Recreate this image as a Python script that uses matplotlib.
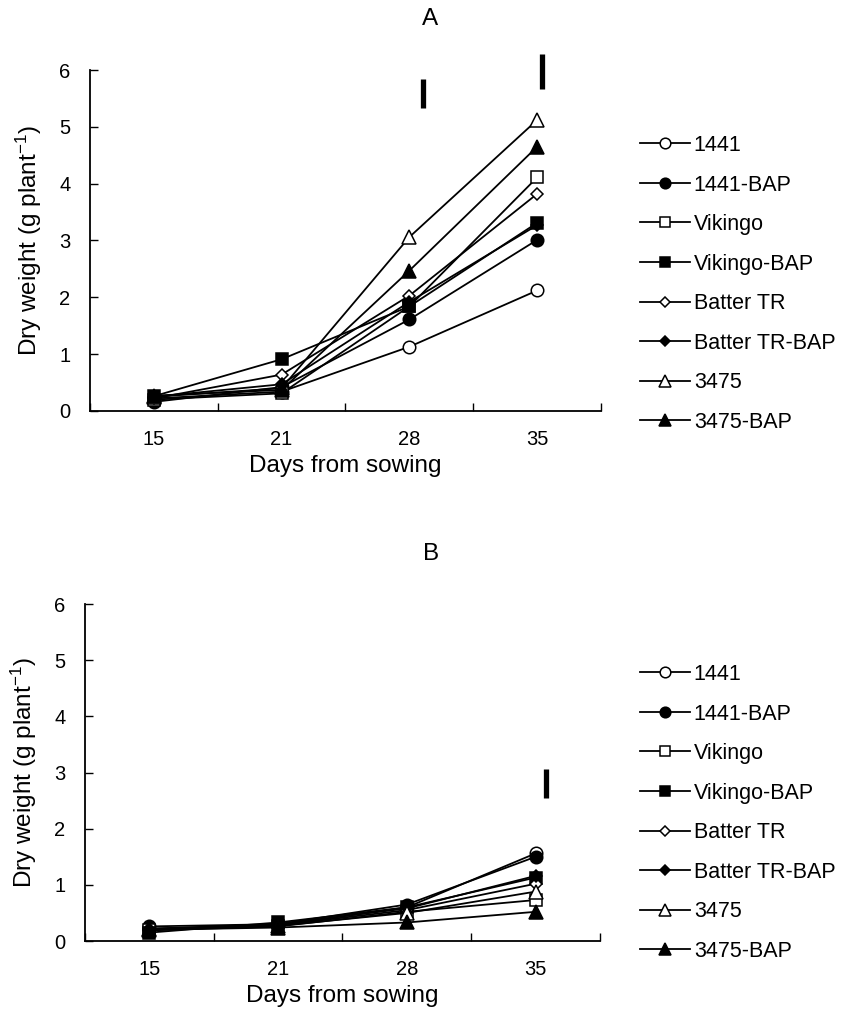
import matplotlib
matplotlib.use("Agg")
import matplotlib.pyplot as plt

plt.rcParams['font.family'] = ['Liberation Sans', 'DejaVu Sans']
plt.rcParams['mathtext.fontset'] = 'custom'
plt.rcParams['mathtext.rm'] = 'Liberation Sans'
plt.rcParams['mathtext.it'] = 'Liberation Sans'

days = ["15", "21", "28", "35"]
labels = ["1441", "1441-BAP", "Vikingo", "Vikingo-BAP",
          "Batter TR", "Batter TR-BAP", "3475", "3475-BAP"]

# Panel A
a_1441 = [0.22, 0.34, 1.13, 2.12]
a_1441_bap = [0.16, 0.42, 1.61, 3.01]
a_vik = [0.20, 0.31, 1.84, 4.11]
a_vik_bap = [0.26, 0.91, 1.84, 3.31]
a_bat = [0.22, 0.64, 2.03, 3.82]
a_bat_bap = [0.25, 0.47, 1.92, 3.27]
a_3475 = [0.25, 0.40, 3.06, 5.12]
a_3475_bap = [0.27, 0.37, 2.47, 4.65]

# Panel B
b_1441 = [0.22, 0.28, 0.60, 1.56]
b_1441_bap = [0.26, 0.30, 0.65, 1.50]
b_vik = [0.19, 0.26, 0.52, 0.73]
b_vik_bap = [0.15, 0.33, 0.60, 1.13]
b_bat = [0.20, 0.28, 0.55, 1.02]
b_bat_bap = [0.22, 0.30, 0.58, 1.16]
b_3475 = [0.21, 0.27, 0.50, 0.88]
b_3475_bap = [0.20, 0.24, 0.33, 0.52]

# LSD bars (x in category units, low, high)
a_lsd_x = [2.11, 3.04]
a_lsd_lo = [5.34, 5.67]
a_lsd_hi = [5.84, 6.29]
b_lsd_x = [3.08]
b_lsd_lo = [2.55]
b_lsd_hi = [3.07]

styles = [("o", "white", 9), ("o", "black", 9), ("s", "white", 9), ("s", "black", 9),
          ("D", "white", 6.5), ("D", "black", 6.5), ("^", "white", 9.5), ("^", "black", 9.5)]


def draw_panel(ax, series, lsd_x, lsd_lo, lsd_hi):
    x = range(len(days))
    for vals, lab, (m, fc, ms) in zip(series, labels, styles):
        ax.plot(x, vals, color="black", lw=1.3, marker=m, markersize=ms,
                markerfacecolor=fc, markeredgecolor="black", markeredgewidth=1.1, label=lab)
    for xx, lo, hi in zip(lsd_x, lsd_lo, lsd_hi):
        ax.plot([xx, xx], [lo, hi], color="black", lw=3.8, solid_capstyle="butt", clip_on=False)
    ax.set_xlim(-0.5, 3.5)
    ax.set_ylim(0, 6)
    ax.set_yticks(range(7))
    ax.set_xticks([-0.5, 0.5, 1.5, 2.5, 3.5])
    ax.set_xticklabels([])
    ax.set_xticks(list(x), minor=True)
    ax.set_xticklabels(days, minor=True)
    ax.tick_params(axis="x", which="minor", length=0, labelsize=14.5, pad=14)
    ax.tick_params(axis="x", which="major", direction="in", length=6, width=1)
    ax.tick_params(axis="y", direction="in", length=6, width=1, labelsize=14.5, pad=14)
    ax.spines["top"].set_visible(False)
    ax.spines["right"].set_visible(False)
    ax.spines["left"].set_linewidth(1.3)
    ax.spines["bottom"].set_linewidth(1.3)
    ax.set_xlabel("Days from sowing", fontsize=17.5, labelpad=4)
    ax.set_ylabel("Dry weight (g plant$^{-1}$)", fontsize=17.5, labelpad=11)


fig = plt.figure(figsize=(8.44, 10.16), dpi=100)
ax1 = fig.add_axes([0.1066, 0.5955, 0.6055, 0.3356])
ax2 = fig.add_axes([0.1007, 0.0738, 0.6102, 0.3317])

draw_panel(ax1, [a_1441, a_1441_bap, a_vik, a_vik_bap, a_bat, a_bat_bap, a_3475, a_3475_bap],
           a_lsd_x, a_lsd_lo, a_lsd_hi)
draw_panel(ax2, [b_1441, b_1441_bap, b_vik, b_vik_bap, b_bat, b_bat_bap, b_3475, b_3475_bap],
           b_lsd_x, b_lsd_lo, b_lsd_hi)

fig.text(430 / 844, 1 - 19 / 1016, "A", fontsize=17.5, ha="center", va="center")
fig.text(431 / 844, 1 - 554 / 1016, "B", fontsize=17.5, ha="center", va="center")

for ax, top, left in [(ax1, 135, 640), (ax2, 664, 640)]:
    h, l = ax.get_legend_handles_labels()
    fig.legend(h, l, loc="upper left", bbox_to_anchor=(left / 844, 1 - top / 1016),
               frameon=False, fontsize=15.5, handlelength=2.3, handletextpad=0.2,
               labelspacing=0.86, borderaxespad=0, borderpad=0, markerscale=0.85)

fig.savefig("out.png", dpi=100)
